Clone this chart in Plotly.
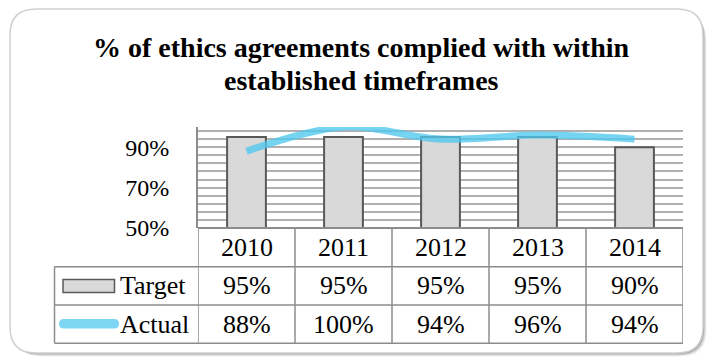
import plotly.graph_objects as go

# ---- data ----
years = ["2010", "2011", "2012", "2013", "2014"]
target = [95, 95, 95, 95, 90]
actual = [88, 100, 94, 96, 94]
series_names = ["Target", "Actual"]
title_lines = ["% of ethics agreements complied with within", "established timeframes"]
y_tickvals = [50, 70, 90]
y_ticktext = ["50%", "70%", "90%"]

W, H = 712, 360
L, R, T, B = 198, 29, 127, 132
PW, PH = W - L - R, H - T - B

def px(x):
    return (x - L) / PW

def py(y):
    return (H - B - y) / PH

FONT = "Liberation Serif"
GRID = "#b0b0b0"
TLINE = "#8c8c8c"
LINE_COLOR = "rgba(80,200,240,0.78)"

fig = go.Figure()
fig.add_trace(go.Bar(
    x=years, y=target, name=series_names[0], width=0.4,
    marker=dict(color="#d9d9d9", line=dict(color="#595959", width=2)),
))
fig.add_trace(go.Scatter(
    x=years, y=actual, name=series_names[1], mode="lines",
    line=dict(color=LINE_COLOR, width=7, shape="spline", smoothing=1.0),
))

shapes = []

def rrect(x0, y0, x1, y1, r):
    return (f"M {px(x0+r)},{py(y0)} L {px(x1-r)},{py(y0)} Q {px(x1)},{py(y0)} {px(x1)},{py(y0+r)} "
            f"L {px(x1)},{py(y1-r)} Q {px(x1)},{py(y1)} {px(x1-r)},{py(y1)} "
            f"L {px(x0+r)},{py(y1)} Q {px(x0)},{py(y1)} {px(x0)},{py(y1-r)} "
            f"L {px(x0)},{py(y0+r)} Q {px(x0)},{py(y0)} {px(x0+r)},{py(y0)} Z")

# frame with shadow
for off, col in [(6, "rgba(0,0,0,0.06)"), (4, "rgba(0,0,0,0.12)"), (2, "rgba(0,0,0,0.22)")]:
    shapes.append(dict(type="path", xref="paper", yref="paper", layer="below",
                       path=rrect(10 + off, 9 + off, 703 + off * 0.6, 353 + off * 0.6, 26),
                       fillcolor=col, line=dict(width=0)))
shapes.append(dict(type="path", xref="paper", yref="paper", layer="below",
                   path=rrect(10, 9, 703, 353, 26), fillcolor="white",
                   line=dict(color="#cfcfcf", width=1.5)))

# table geometry (pixel rows)
row_y = [228, 266.7, 305, 343.3]
n = len(years)
shapes.append(dict(type="line", xref="paper", yref="paper", x0=0, x1=1, y0=py(row_y[0]), y1=py(row_y[0]),
                   line=dict(color=TLINE, width=2)))
for yy in row_y[1:]:
    shapes.append(dict(type="line", xref="paper", yref="paper", x0=px(54.5), x1=1, y0=py(yy), y1=py(yy),
                       line=dict(color=TLINE, width=1.5)))
for i in range(n + 1):
    shapes.append(dict(type="line", xref="x", yref="paper", x0=i - 0.5, x1=i - 0.5,
                       y0=py(row_y[0]), y1=py(row_y[3]), line=dict(color=TLINE, width=1.5)))
shapes.append(dict(type="line", xref="paper", yref="paper", x0=px(54.5), x1=px(54.5),
                   y0=py(row_y[1]), y1=py(row_y[3]), line=dict(color=TLINE, width=1.5)))
# legend swatches
shapes.append(dict(type="rect", xref="paper", yref="paper", x0=px(63), x1=px(114.5),
                   y0=py(279.5), y1=py(292.5), fillcolor="#d9d9d9", line=dict(color="#595959", width=1.5)))
shapes.append(dict(type="path", xref="paper", yref="paper", path=rrect(59, 319, 119, 328.5, 4.7),
                   fillcolor="rgba(124,214,244,1)", line=dict(width=0)))

annotations = []
for i, t in enumerate(title_lines):
    annotations.append(dict(text=f"<b>{t}</b>", xref="paper", yref="paper", x=px(361.5), y=py(47 + 33 * i),
                            xanchor="center", yanchor="middle", showarrow=False,
                            font=dict(family=FONT, size=28, color="black")))
row_centers = [(row_y[k] + row_y[k + 1]) / 2 for k in range(3)]
rows = [years, [f"{v}%" for v in target], [f"{v}%" for v in actual]]
for k, row in enumerate(rows):
    for i, txt in enumerate(row):
        annotations.append(dict(text=txt, xref="x", yref="paper", x=i, y=py(row_centers[k]),
                                showarrow=False, xanchor="center", yanchor="middle",
                                font=dict(family=FONT, size=26, color="black")))
for k, nm in enumerate(series_names):
    annotations.append(dict(text=nm, xref="paper", yref="paper", x=px(118), y=py(row_centers[k + 1]),
                            showarrow=False, xanchor="left", yanchor="middle",
                            font=dict(family=FONT, size=26, color="black")))

fig.update_layout(
    width=W, height=H, margin=dict(l=L, r=R, t=T, b=B, autoexpand=False),
    paper_bgcolor="white", plot_bgcolor="rgba(0,0,0,0)",
    showlegend=False, bargap=0.6,
    shapes=shapes, annotations=annotations,
    xaxis=dict(type="category", showticklabels=False, showgrid=False, zeroline=False, showline=False,
               range=[-0.5, n - 0.5], fixedrange=True),
    yaxis=dict(range=[50, 100], tickvals=y_tickvals, ticktext=y_ticktext, showgrid=True,
               gridcolor=GRID, gridwidth=1.5, zeroline=False, showline=True, linecolor="#8c8c8c",
               linewidth=2, ticks="", ticklabelstandoff=22,
               tickfont=dict(family=FONT, size=24, color="black"),
               minor=dict(tick0=50, dtick=4, showgrid=True, gridcolor=GRID, gridwidth=1.5)),
)
fig.write_html("out.html")
